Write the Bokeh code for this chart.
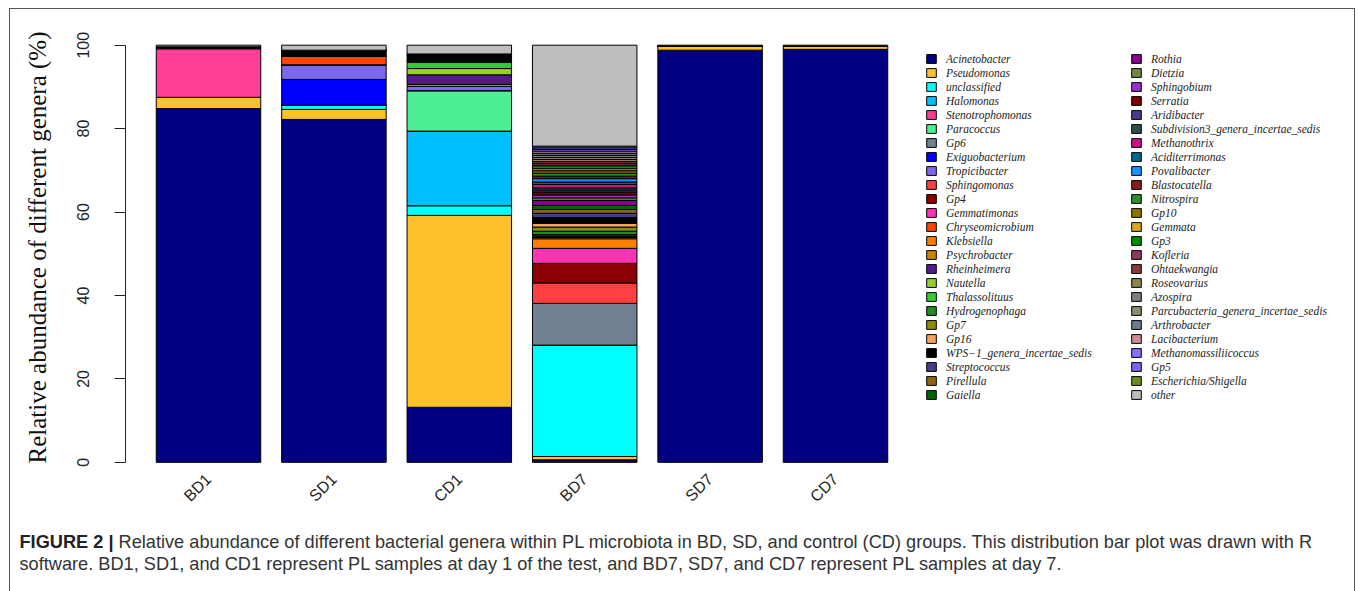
import math
from bokeh.plotting import figure
from bokeh.models import (Range1d, FixedTicker, Legend, LegendItem, Label,
                          ColumnDataSource)
from bokeh.embed import file_html
from bokeh.resources import INLINE

samples = ["BD1", "SD1", "CD1", "BD7", "SD7", "CD7"]

genera = [
    "Acinetobacter", "Pseudomonas", "unclassified", "Halomonas", "Stenotrophomonas",
    "Paracoccus", "Gp6", "Exiguobacterium", "Tropicibacter", "Sphingomonas",
    "Gp4", "Gemmatimonas", "Chryseomicrobium", "Klebsiella", "Psychrobacter",
    "Rheinheimera", "Nautella", "Thalassolituus", "Hydrogenophaga", "Gp7",
    "Gp16", "WPS\u22121_genera_incertae_sedis", "Streptococcus", "Pirellula", "Gaiella",
    "Rothia", "Dietzia", "Sphingobium", "Serratia", "Aridibacter",
    "Subdivision3_genera_incertae_sedis", "Methanothrix", "Aciditerrimonas", "Povalibacter", "Blastocatella",
    "Nitrospira", "Gp10", "Gemmata", "Gp3", "Kofleria",
    "Ohtaekwangia", "Roseovarius", "Azospira", "Parcubacteria_genera_incertae_sedis", "Arthrobacter",
    "Lacibacterium", "Methanomassiliicoccus", "Gp5", "Escherichia/Shigella", "other",
]

colors = [
    "#000080", "#FDC12A", "#00FFFF", "#00BFFF", "#FF3E96",
    "#4EEE94", "#708090", "#0000FF", "#7B68EE", "#FF4040",
    "#8B0000", "#FF34B3", "#FF4500", "#FF7F00", "#CD8500",
    "#551A8B", "#9ACD32", "#32CD32", "#228B22", "#8B8B00",
    "#F4A460", "#000000", "#483D8B", "#8B6914", "#006400",
    "#8B008B", "#6E8B3D", "#9932CC", "#800000", "#473C8B",
    "#2F4F4F", "#C71585", "#00688B", "#1E90FF", "#8B1A1A",
    "#2E8B2E", "#8B7500", "#DAA520", "#008B00", "#8B3A62",
    "#8B3A3A", "#8B864E", "#7F7F7F", "#8B8B73", "#6C7B8B",
    "#CD8C95", "#8470FF", "#7A67EE", "#6B8E23", "#BEBEBE",
]

# relative abundance (%) per sample, in the order of `genera`
BD1 = [84.8, 2.7, 0, 0, 11.7, 0, 0, 0, 0, 0,
       0, 0, 0, 0, 0, 0, 0, 0, 0, 0,
       0, 0.4, 0, 0, 0, 0, 0, 0, 0, 0,
       0, 0, 0, 0, 0, 0, 0, 0, 0, 0,
       0, 0, 0, 0, 0, 0, 0, 0, 0, 0.4]
SD1 = [82.2, 2.4, 1.0, 0, 0, 0, 0, 6.2, 3.5, 0,
       0, 0, 2.1, 0, 0, 0, 0, 0, 0, 0,
       0, 1.4, 0, 0, 0, 0, 0, 0, 0, 0,
       0, 0, 0, 0, 0, 0, 0, 0, 0, 0,
       0, 0, 0, 0, 0, 0, 0, 0, 0, 1.2]
CD1 = [13.2, 46.0, 2.3, 17.9, 0, 9.7, 0, 0, 1.0, 0,
       0, 0, 0, 0, 0.5, 2.3, 1.5, 1.6, 0, 0,
       0, 1.9, 0, 0, 0, 0, 0, 0, 0, 0,
       0, 0, 0, 0, 0, 0, 0, 0, 0, 0,
       0, 0, 0, 0, 0, 0, 0, 0, 0, 2.1]
BD7 = [0.6, 0.8, 26.7, 0, 0, 0, 10.0, 0, 0, 4.9,
       4.7, 3.6, 0, 2.3, 0.3, 0.2, 0.2, 0.3, 0.8, 1.0,
       0.9, 1.4, 1.0, 0.9, 1.0, 1.2, 0.6, 0.7, 0.7, 0.5,
       0.5, 0.8, 0.6, 0.8, 0.6, 0.7, 0.6, 0.5, 0.7, 0.5,
       0.5, 0.5, 0.5, 0.5, 0.5, 0.5, 0.4, 0.4, 0.4, 24.2]
SD7 = [98.8, 1.0, 0, 0, 0, 0, 0, 0, 0, 0,
       0, 0, 0, 0, 0, 0, 0, 0, 0, 0,
       0, 0, 0, 0, 0, 0, 0, 0, 0, 0,
       0, 0, 0, 0, 0, 0, 0, 0, 0, 0,
       0, 0, 0, 0, 0, 0, 0, 0, 0, 0.2]
CD7 = [99.0, 0.8, 0, 0, 0, 0, 0, 0, 0, 0,
       0, 0, 0, 0, 0, 0, 0, 0, 0, 0,
       0, 0, 0, 0, 0, 0, 0, 0, 0, 0,
       0, 0, 0, 0, 0, 0, 0, 0, 0, 0,
       0, 0, 0, 0, 0, 0, 0, 0, 0, 0.2]

yticks = [0, 20, 40, 60, 80, 100]
ylabel = "Relative abundance of different genera (%)"
caption_bold = "FIGURE 2 |"
caption_1 = ("Relative abundance of different bacterial genera within PL microbiota in BD, SD, "
             "and control (CD) groups. This distribution bar plot was drawn with R")
caption_2 = ("software. BD1, SD1, and CD1 represent PL samples at day 1 of the test, and BD7, SD7, "
             "and CD7 represent PL samples at day 7.")

values = [BD1, SD1, CD1, BD7, SD7, CD7]
xpos = list(range(1, len(samples) + 1))
data = {"x": xpos}
for gi, g in enumerate(genera):
    data[g] = [v[gi] for v in values]
src = ColumnDataSource(data)

W, H = 1358, 591
p = figure(width=W, height=H, output_backend="svg", toolbar_location=None,
           x_range=Range1d(0.338, 10.067), y_range=Range1d(-1, 104),
           min_border_left=125, min_border_right=13, min_border_top=28, min_border_bottom=125)
p.outline_line_color = None
p.xgrid.visible = False
p.ygrid.visible = False
p.background_fill_color = "white"
p.border_fill_color = None
# thin frame round the figure panel (left, top, right; bottom edge lies below the window)
p.styles = {
    "background-color": "white",
    "background-image": ("linear-gradient(#555555, #555555), linear-gradient(#555555, #555555), "
                         "linear-gradient(#555555, #555555)"),
    "background-size": "1px 620px, 1346px 1px, 1px 620px",
    "background-position": "9px 8px, 9px 8px, 1354px 8px",
    "background-repeat": "no-repeat",
}

rends = p.vbar_stack(genera, x="x", width=1 / 1.2, fill_color=colors,
                     line_color="black", line_width=1, source=src)

# y axis (R style)
ya = p.yaxis[0]
ya.ticker = FixedTicker(ticks=yticks)
ya.bounds = (0, 100)
ya.axis_line_color = "#222222"
ya.major_tick_line_color = "#222222"
ya.major_tick_out = 11
ya.major_tick_in = 0
ya.minor_tick_line_color = None
ya.major_label_orientation = "vertical"
ya.major_label_text_font = "Liberation Sans"
ya.major_label_text_font_size = "16px"
ya.major_label_text_color = "#222222"
ya.major_label_standoff = 25
ya.axis_label = ylabel
ya.axis_label_text_font = "Liberation Serif"
ya.axis_label_text_font_style = "normal"
ya.axis_label_text_font_size = "25px"
ya.axis_label_text_color = "#111111"
ya.axis_label_standoff = 24

xa = p.xaxis[0]
xa.ticker = FixedTicker(ticks=xpos)
xa.major_label_overrides = {x: s for x, s in zip(xpos, samples)}
xa.axis_line_color = None
xa.major_tick_line_color = None
xa.minor_tick_line_color = None
xa.major_label_orientation = math.pi / 4
xa.major_label_text_font = "Liberation Sans"
xa.major_label_text_font_size = "16px"
xa.major_label_text_color = "#222222"
xa.major_label_standoff = 4

# legends: two columns
half = 25
for col, (start, xloc) in enumerate([(0, 800), (half, 1005)]):
    items = [LegendItem(label=genera[i], renderers=[rends[i]])
             for i in range(start, start + half)]
    leg = Legend(items=items, location=(xloc, 65), orientation="vertical",
                 glyph_width=12, glyph_height=11, label_height=13, spacing=1,
                 label_standoff=9, padding=0, margin=0,
                 label_text_font="Liberation Serif", label_text_font_style="italic",
                 label_text_font_size="11.5px", label_text_color="#222222",
                 border_line_color=None, background_fill_alpha=0)
    p.add_layout(leg)

# caption
p.add_layout(Label(x=19, y=541, x_units="canvas", y_units="canvas", text=caption_bold,
                   text_font="Liberation Sans", text_font_style="bold", text_font_size="18.2px",
                   text_color="#222222", text_baseline="middle"), "below")
p.add_layout(Label(x=118, y=541, x_units="canvas", y_units="canvas", text=caption_1,
                   text_font="Liberation Sans", text_font_size="18.2px",
                   text_color="#333333", text_baseline="middle"), "below")
p.add_layout(Label(x=19, y=563, x_units="canvas", y_units="canvas", text=caption_2,
                   text_font="Liberation Sans", text_font_size="18.2px",
                   text_color="#333333", text_baseline="middle"), "below")

open("out.html", "w").write(file_html(p, INLINE))
